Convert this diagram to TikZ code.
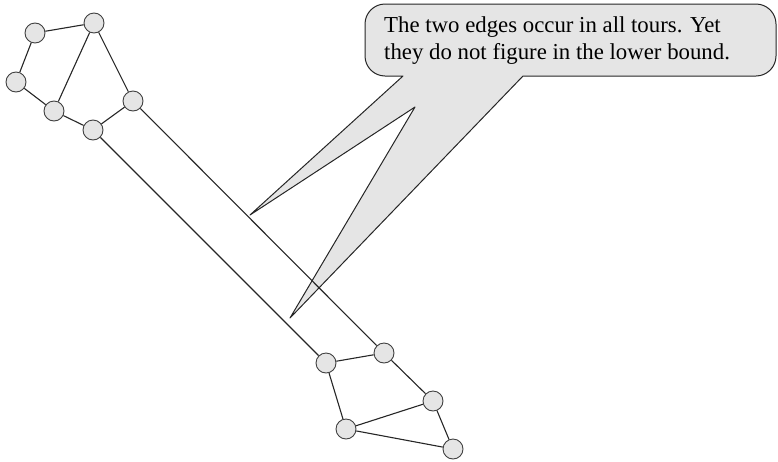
\documentclass[tikz,border=0pt]{standalone}
\usepackage{fontspec}
\setmainfont{Liberation Serif}
\begin{document}
\begin{tikzpicture}[x=1pt,y=-1pt,
  vtx/.style={circle,draw=black!75,fill=black!10,minimum size=20pt,inner sep=0pt,line width=0.9pt},
  edge/.style={draw=black!85,line width=1.1pt},
  bubble/.style={draw=black!85,fill=black!10,line width=1pt,line join=round},
  txt/.style={font=\fontsize{22.8}{27}\selectfont,align=left,anchor=west,inner sep=0pt}]
\useasboundingbox (0,0) rectangle (778,461);
% callout
\path[bubble] (403,76) -- (250,215) -- (415,107) -- (290,318) -- (523,76) -- (756,76)
  .. controls (767,76) and (776,67) .. (776,56) -- (776,24)
  .. controls (776,13) and (767,4) .. (756,4) -- (385,4)
  .. controls (374,4) and (365,13) .. (365,24) -- (365,56)
  .. controls (365,67) and (374,76) .. (385,76) -- cycle;
\node[txt] (t) at (384,41) {The two edges occur in all tours. Yet\\they do not figure in the lower bound.};
% top cluster
\node[vtx] (a) at (35,33) {};
\node[vtx] (b) at (94,23) {};
\node[vtx] (c) at (16,82) {};
\node[vtx] (d) at (54,111) {};
\node[vtx] (e) at (133,101) {};
\node[vtx] (f) at (93,130) {};
% bottom cluster
\node[vtx] (g) at (326,363) {};
\node[vtx] (h) at (384,353) {};
\node[vtx] (i) at (433,401) {};
\node[vtx] (j) at (346,429) {};
\node[vtx] (k) at (453,449) {};
\draw[edge] (a) -- (b) (a) -- (c) (c) -- (d) (d) -- (b) (b) -- (e) (d) -- (f) (f) -- (e);
\draw[edge] (f) -- (g) (e) -- (h);
\draw[edge] (g) -- (h) (h) -- (i) (g) -- (j) (j) -- (i) (j) -- (k) (i) -- (k);
\end{tikzpicture}
\end{document}
